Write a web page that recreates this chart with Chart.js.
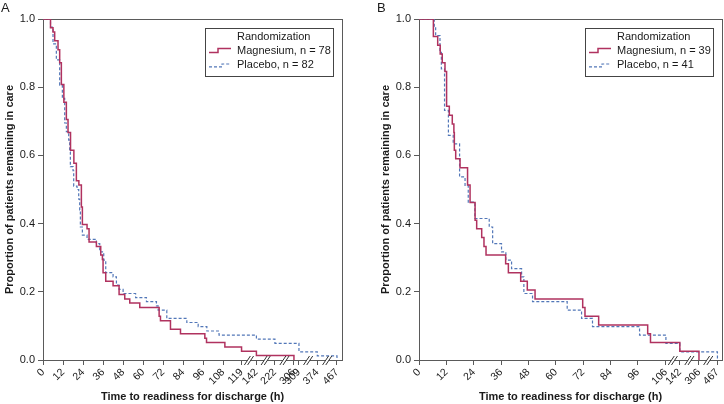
<!DOCTYPE html>
<html><head><meta charset="utf-8">
<script src="https://cdn.jsdelivr.net/npm/chart.js@4/dist/chart.umd.min.js"></script>
<style>
html,body{margin:0;padding:0;background:#fff;}
#wrap{position:relative;width:724px;height:404px;overflow:hidden;}
#ca{position:absolute;left:0;top:0;}
#cb{position:absolute;left:376px;top:0;}
</style></head><body>
<div id="wrap">
<canvas id="ca" width="362" height="404"></canvas>
<canvas id="cb" width="348" height="404"></canvas>
</div>
<script>
// ---------------- data ----------------
const SERIES_NAMES_A = ['Magnesium, n = 78', 'Placebo, n = 82'];
const SERIES_NAMES_B = ['Magnesium, n = 39', 'Placebo, n = 41'];
const LEGEND_TITLE = 'Randomization';
const Y_TICKS = [0, 0.2, 0.4, 0.6, 0.8, 1.0];

// Panel A
const A_TICK_HOURS = [0,12,24,36,48,60,72,84,96,108,119,142,222,306,309,374,467];
const A_BREAKS = [[119,142],[142,222],[222,306],[309,374],[374,467]];
const A_MG_HOURS = [0,4.5,6,7,9,10,11,12.5,14,15,16.5,18.5,20,21.5,23,23.6,26.4,27.6,32,34.6,35.6,36,37.6,42,45.6,49,52,58,69.6,70.4,76.4,82.4,97,98,109,119,142,306];
const A_MG_SURV  = [1,0.974,0.962,0.936,0.910,0.872,0.808,0.756,0.705,0.667,0.615,0.577,0.526,0.513,0.449,0.397,0.385,0.346,0.333,0.308,0.295,0.256,0.231,0.218,0.192,0.179,0.167,0.154,0.128,0.115,0.090,0.077,0.064,0.051,0.038,0.026,0.013,0];
const A_PL_HOURS = [0,4.5,6,8,10,11.6,13,14,15.4,16,16.4,18,18.4,20.4,21.4,22,22.4,23.6,26.4,32,34,36.4,37.6,42,44,45.6,48,55.5,62,68,69,74.2,86.2,93,98.2,105.5,142,222,309,374,467];
const A_PL_SURV  = [1,0.976,0.927,0.880,0.806,0.767,0.695,0.670,0.645,0.610,0.567,0.555,0.510,0.500,0.472,0.440,0.390,0.366,0.354,0.341,0.317,0.293,0.256,0.244,0.220,0.207,0.195,0.183,0.171,0.159,0.146,0.122,0.110,0.098,0.085,0.073,0.061,0.049,0.024,0.012,0];

// Panel B
const B_TICK_HOURS = [0,12,24,36,48,60,72,84,96,106,142,306,467];
const B_BREAKS = [[106,142],[142,306],[306,467]];
const B_MG_HOURS = [0,6.3,8.2,9.3,10.2,11.4,12.1,13.3,14.6,15.3,15.5,16.1,18,21.3,22.4,24.6,25.3,27.5,28.5,29.4,38,39.2,44.6,47.5,50.9,71.8,72.8,78.8,99.5,100.5,142,306];
const B_MG_SURV  = [1,0.949,0.923,0.897,0.872,0.846,0.744,0.718,0.692,0.667,0.615,0.590,0.564,0.513,0.462,0.410,0.385,0.359,0.333,0.308,0.282,0.256,0.231,0.205,0.179,0.154,0.128,0.103,0.077,0.051,0.026,0];
const B_PL_HOURS = [0,6.7,7.3,9.2,9.8,11.2,12.9,15,17.8,20.2,21.6,24.5,30.8,32.3,36.2,38.1,40.6,45,46,49.8,65,71.3,76.1,96.6,106,142,467];
const B_PL_SURV  = [1,0.976,0.951,0.902,0.854,0.732,0.659,0.634,0.537,0.512,0.463,0.415,0.390,0.341,0.317,0.293,0.268,0.244,0.195,0.171,0.146,0.122,0.098,0.073,0.049,0.024,0];

// ---------------- broken-axis configuration ----------------
const A_AXIS = { knotsH:[0,119,142,222,306,309,374,467], knotsD:[0,119,127.9,139.0,150.4,153.4,164.4,176.2], maxD:179.2 };
const B_AXIS = { knotsH:[0,96,106,142,306,467], knotsD:[0,96,108.3,114.4,122.8,130.9], maxD:132.9 };

// ---------------- styles ----------------
const FONT = "'Liberation Sans', Arial, Helvetica, sans-serif";
const TXT = '#1a1a1a';
const AX = '#5a5a5a';
const MG_STYLE = { borderColor:'#b0325f', borderWidth:1.5, borderDash:[] };
const PL_STYLE = { borderColor:'#5277b8', borderWidth:1.2, borderDash:[3,2] };

function interp(xs, ys, v){
  if (v <= xs[0]) return ys[0];
  for (let i=0;i<xs.length-1;i++){
    if (v <= xs[i+1]) return ys[i] + (v-xs[i])*(ys[i+1]-ys[i])/(xs[i+1]-xs[i]);
  }
  const n = xs.length-1;
  return ys[n] + (v-xs[n]);
}

function makePanel(canvasId, P){
  const toAxis = h => interp(P.axis.knotsH, P.axis.knotsD, h);
  const pts = (hs, ss) => hs.map((h,i)=>({x: toAxis(h), y: ss[i]}));
  const overlay = {
    id: 'overlay_' + canvasId,
    beforeDatasetsDraw(chart){
      const {ctx, chartArea:a} = chart;
      ctx.save();
      ctx.strokeStyle = AX; ctx.lineWidth = 1;
      ctx.strokeRect(Math.round(a.left)+0.5, Math.round(a.top)+0.5, Math.round(a.right-a.left), Math.round(a.bottom-a.top));
      ctx.restore();
    },
    afterDraw(chart){
      const {ctx, chartArea:a} = chart;
      const xs = chart.scales.x;
      ctx.save();
      // axis breaks
      P.breaks.forEach(([h1,h2])=>{
        const cx = xs.getPixelForValue((toAxis(h1)+toAxis(h2))/2);
        const cy = Math.round(a.bottom)+0.5;
        ctx.fillStyle = '#fff';
        ctx.fillRect(cx-1.5, cy-1.5, 3, 3);
        ctx.strokeStyle = '#333'; ctx.lineWidth = 1;
        [-1.6, 1.6].forEach(off=>{
          ctx.beginPath();
          ctx.moveTo(cx+off-3, cy+4.5);
          ctx.lineTo(cx+off+3, cy-4.5);
          ctx.stroke();
        });
      });
      // legend
      const bw = 128, bh = 48;
      const bx = Math.round(a.right - 9 - bw), by = Math.round(a.top + 9);
      ctx.fillStyle = '#fff'; ctx.fillRect(bx, by, bw, bh);
      ctx.strokeStyle = '#444'; ctx.lineWidth = 1;
      ctx.strokeRect(bx+0.5, by+0.5, bw, bh);
      ctx.font = '11px ' + FONT; ctx.fillStyle = TXT;
      ctx.textBaseline = 'middle'; ctx.textAlign = 'left';
      ctx.fillText(LEGEND_TITLE, bx+32, by+8.5);
      const styles = [MG_STYLE, PL_STYLE];
      const shapes = [{low:1.5, high:-2.5, step:13}, {low:2.3, high:-0.5, step:17}];
      P.names.forEach((name,i)=>{
        const y = by + 23 + i*13.5;
        ctx.fillStyle = TXT;
        ctx.fillText(name, bx+32, y);
        ctx.save();
        ctx.strokeStyle = styles[i].borderColor; ctx.lineWidth = styles[i].borderWidth;
        ctx.setLineDash(styles[i].borderDash);
        ctx.beginPath();
        ctx.moveTo(bx+4, y+shapes[i].low);
        ctx.lineTo(bx+shapes[i].step, y+shapes[i].low);
        ctx.lineTo(bx+shapes[i].step, y+shapes[i].high);
        ctx.lineTo(bx+26, y+shapes[i].high);
        ctx.stroke();
        ctx.restore();
      });
      // panel label
      ctx.font = '13px ' + FONT; ctx.fillStyle = TXT; ctx.textBaseline = 'middle';
      ctx.fillText(P.label, 1, 8);
      ctx.restore();
    }
  };
  return new Chart(document.getElementById(canvasId), {
    type: 'line',
    data: { datasets: [
      Object.assign({ label: P.names[0], data: pts(P.mgH, P.mgS), stepped: true, pointRadius: 0, fill: false }, MG_STYLE),
      Object.assign({ label: P.names[1], data: pts(P.plH, P.plS), stepped: true, pointRadius: 0, fill: false }, PL_STYLE)
    ]},
    options: {
      responsive: false, animation: false, devicePixelRatio: 1,
      layout: { padding: { left: 0, right: P.padRight, top: 19, bottom: 0 } },
      plugins: { legend: { display: false }, tooltip: { enabled: false } },
      scales: {
        x: {
          type: 'linear', min: 0, max: P.axis.maxD,
          afterBuildTicks: s => { s.ticks = P.ticksH.map(h => ({ value: toAxis(h) })); },
          ticks: { autoSkip: false, minRotation: 45, maxRotation: 45, padding: 1, color: TXT,
                   font: { size: 10.5, family: FONT },
                   callback: (v, i) => String(P.ticksH[i]) },
          grid: { display: true, drawOnChartArea: false, drawTicks: true, tickLength: 5, color: AX },
          border: { display: true, color: AX, width: 1 },
          title: { display: true, text: 'Time to readiness for discharge (h)', color: TXT,
                   font: { size: 11, weight: 'bold', family: FONT }, padding: { top: 0, bottom: 0 } },
          afterFit: s => { s.height = 44; s.paddingLeft = 0; s.paddingRight = 0; }
        },
        y: {
          min: 0, max: 1,
          afterBuildTicks: s => { s.ticks = Y_TICKS.map(v => ({ value: v })); },
          ticks: { color: TXT, padding: 3, font: { size: 11, family: FONT }, callback: v => v.toFixed(1) },
          grid: { display: true, drawOnChartArea: false, drawTicks: true, tickLength: 5, color: AX },
          border: { display: true, color: AX, width: 1 },
          title: { display: true, text: 'Proportion of patients remaining in care', color: TXT,
                   font: { size: 11, weight: 'bold', family: FONT }, padding: { top: 3.5, bottom: 0 } },
          afterFit: s => { s.width = 43; }
        }
      }
    },
    plugins: [overlay]
  });
}

makePanel('ca', { label: 'A', names: SERIES_NAMES_A, axis: A_AXIS, ticksH: A_TICK_HOURS, breaks: A_BREAKS,
  mgH: A_MG_HOURS, mgS: A_MG_SURV, plH: A_PL_HOURS, plS: A_PL_SURV, padRight: 20 });
makePanel('cb', { label: 'B', names: SERIES_NAMES_B, axis: B_AXIS, ticksH: B_TICK_HOURS, breaks: B_BREAKS,
  mgH: B_MG_HOURS, mgS: B_MG_SURV, plH: B_PL_HOURS, plS: B_PL_SURV, padRight: 2 });
</script>
</body></html>
